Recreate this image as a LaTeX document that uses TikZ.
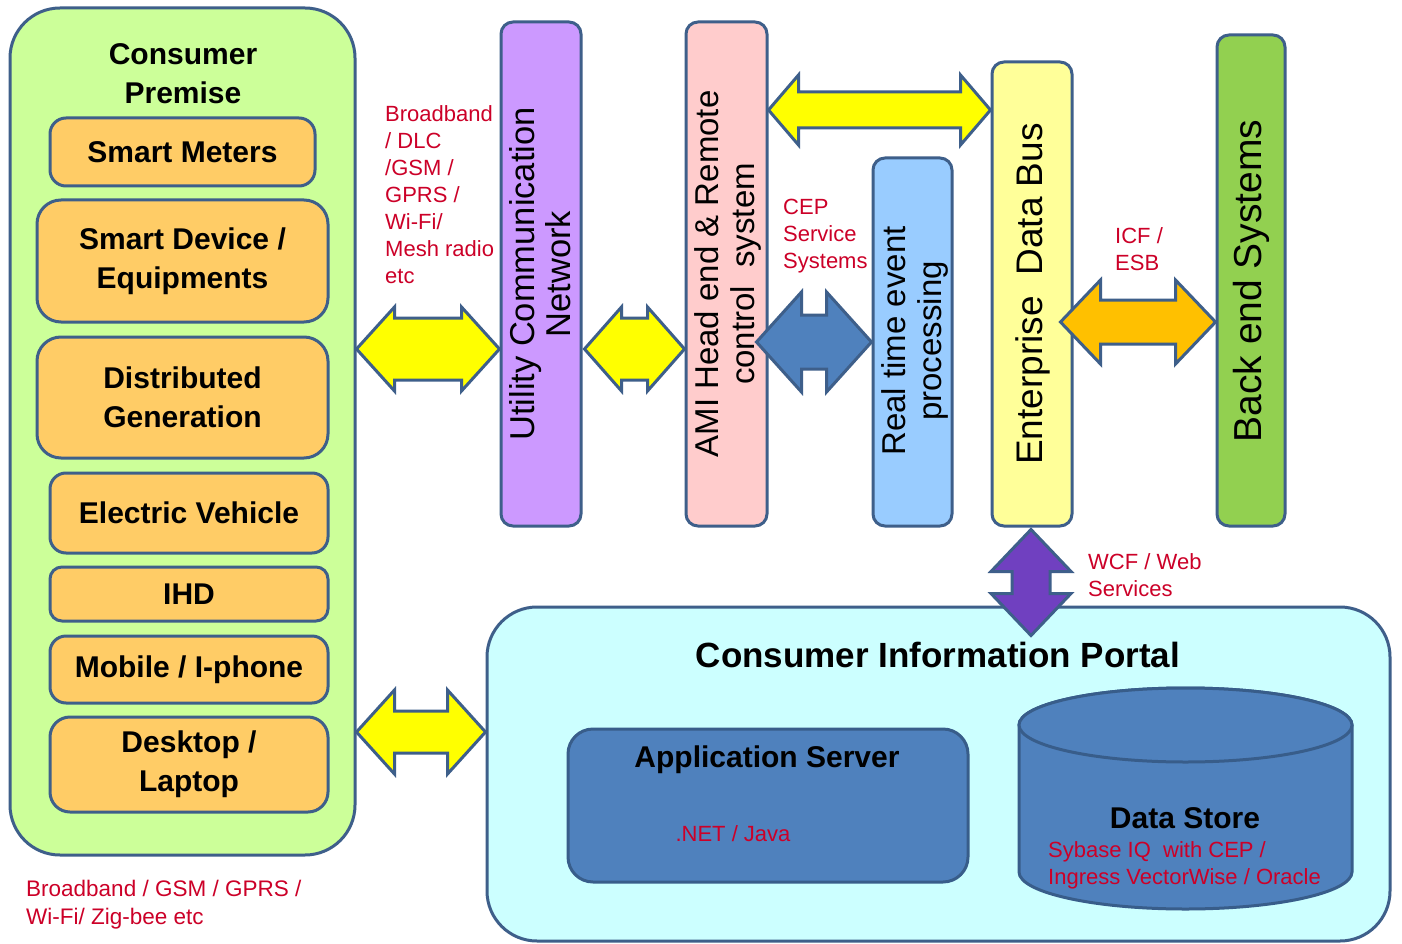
\documentclass[tikz,border=0pt]{standalone}
\usepackage{fontspec}
\setmainfont{Liberation Sans}
\usetikzlibrary{calc}
\definecolor{bd}{RGB}{62,95,138}
\definecolor{cpgreen}{RGB}{204,255,153}
\definecolor{orangebox}{RGB}{255,204,102}
\definecolor{ucnpurple}{RGB}{204,153,255}
\definecolor{amipink}{RGB}{255,204,204}
\definecolor{rtblue}{RGB}{153,204,255}
\definecolor{edbyellow}{RGB}{255,255,153}
\definecolor{begreen}{RGB}{146,208,80}
\definecolor{portalcyan}{RGB}{204,255,255}
\definecolor{steel}{RGB}{79,129,189}
\definecolor{steeldark}{RGB}{56,93,138}
\definecolor{yel}{RGB}{255,255,0}
\definecolor{amber}{RGB}{255,192,0}
\definecolor{violet}{RGB}{112,64,192}
\definecolor{redt}{RGB}{204,0,40}
\tikzset{
  frame/.style={draw=bd, line width=3pt},
  obox/.style={frame, fill=orangebox, rounded corners=16pt, inner sep=0pt,
    font=\fontsize{30}{39}\selectfont\bfseries, align=center},
  vbar/.style={frame, rounded corners=12pt, inner sep=0pt},
  vtxt/.style={rotate=90, align=center, inner sep=0pt, font=\fontsize{33}{36}\selectfont},
  redlbl/.style={text=redt, font=\fontsize{22}{27}\selectfont, align=left, anchor=west, inner sep=0pt},
  barrow/.style={draw=bd, line width=3pt, line join=miter},
  btitle/.style={inner sep=0pt, font=\fontsize{30}{36}\selectfont\bfseries},
}
% horizontal double block arrow: start, end, head length, head half height, shaft half height, fill
\newcommand{\harrow}[6]{%
  \draw[barrow, fill=#6] let \p1=#1, \p2=#2 in
    (\x1,\y1) -- ({\x1+#3pt},{\y1+#4pt}) -- ({\x1+#3pt},{\y1+#5pt}) --
    ({\x2-#3pt},{\y1+#5pt}) -- ({\x2-#3pt},{\y1+#4pt}) -- (\x2,\y1) --
    ({\x2-#3pt},{\y1-#4pt}) -- ({\x2-#3pt},{\y1-#5pt}) --
    ({\x1+#3pt},{\y1-#5pt}) -- ({\x1+#3pt},{\y1-#4pt}) -- cycle;}
% vertical double block arrow: top, bottom, head length, head half width, shaft half width, fill
\newcommand{\varrow}[6]{%
  \draw[barrow, fill=#6] let \p1=#1, \p2=#2 in
    (\x1,\y1) -- ({\x1+#4pt},{\y1-#3pt}) -- ({\x1+#5pt},{\y1-#3pt}) --
    ({\x1+#5pt},{\y2+#3pt}) -- ({\x1+#4pt},{\y2+#3pt}) -- (\x1,\y2) --
    ({\x1-#4pt},{\y2+#3pt}) -- ({\x1-#5pt},{\y2+#3pt}) --
    ({\x1-#5pt},{\y1-#3pt}) -- ({\x1-#4pt},{\y1-#3pt}) -- cycle;}
\begin{document}
\begin{tikzpicture}[x=1pt,y=-1pt]
\useasboundingbox (0,0) rectangle (1402,944);
\fill[white] (0,0) rectangle (1402,944);

% Consumer premise panel
\node[frame, fill=cpgreen, rounded corners=50pt, minimum width=345pt, minimum height=847pt] (cp) at (182.5,431.5) {};
\node[btitle, align=center, font=\fontsize{30}{39}\selectfont\bfseries] (cptitle) at (183,73.5) {Consumer\\Premise};
\node[obox, minimum width=265pt, minimum height=68pt] (sm) at (182.5,152) {Smart Meters};
\node[obox, rounded corners=24pt, minimum width=291pt, minimum height=122pt] (sd) at (182.5,261) {Smart Device /\\Equipments};
\node[obox, rounded corners=24pt, minimum width=291pt, minimum height=121pt] (dg) at (182.5,397.5) {Distributed\\Generation};
\node[obox, minimum width=278pt, minimum height=80pt] (ev) at (189,513) {Electric Vehicle};
\node[obox, rounded corners=12pt, minimum width=278pt, minimum height=54pt] (ihd) at (189,594) {IHD};
\node[obox, minimum width=278pt, minimum height=67pt] (mob) at (189,669.5) {Mobile / I-phone};
\node[obox, rounded corners=20pt, minimum width=278pt, minimum height=95pt] (dt) at (189,764.5) {Desktop /\\Laptop};

% vertical bars
\node[vbar, fill=ucnpurple, minimum width=80pt, minimum height=504pt] (ucn) at (541,274) {};
\node[vbar, fill=amipink, minimum width=81pt, minimum height=504pt] (ami) at (726.5,274) {};
\node[vbar, fill=rtblue, minimum width=79pt, minimum height=368pt] (rt) at (912.5,342) {};
\node[vbar, fill=edbyellow, minimum width=80pt, minimum height=464pt] (edb) at (1032,294) {};
\node[vbar, fill=begreen, minimum width=68pt, minimum height=491pt] (be) at (1251,280.5) {};

\node[vtxt, font=\fontsize{34.5}{36}\selectfont] (ucnt) at (540.5,274) {Utility Communication\\Network};
\node[vtxt] (amit) at (727.5,274) {AMI Head end \& Remote\\control\ \ system};
\node[vtxt] (rtt) at (914.5,341) {Real time event\\processing};
\node[vtxt, font=\fontsize{37}{40}\selectfont] (edbt) at (1033,294) {Enterprise\ \ Data Bus};
\node[vtxt, font=\fontsize{39}{40}\selectfont] (bet) at (1251,281) {Back end Systems};

% portal
\node[frame, fill=portalcyan, rounded corners=50pt, minimum width=903pt, minimum height=334pt] (portal) at (938.5,774) {};
\node[btitle, font=\fontsize{35}{40}\selectfont\bfseries] (ptitle) at (938,655) {Consumer Information Portal};
\node[draw=steeldark, line width=3pt, fill=steel, rounded corners=25pt, minimum width=400pt, minimum height=153pt] (as) at (768,805.5) {};
\node[btitle] (astitle) at (767,760) {Application Server};
\node[redlbl, anchor=center] (asl) at (733,834) {.NET / Java};

% data store cylinder
\draw[draw=steeldark, line width=3pt, fill=steel] (1019,725) -- (1019,872)
  arc[start angle=180, end angle=360, x radius=166.5pt, y radius=37pt] -- (1352,725)
  arc[start angle=0, end angle=180, x radius=166.5pt, y radius=37pt] -- cycle;
\draw[draw=steeldark, line width=3pt, fill=steel] (1185.5,725) ellipse[x radius=166.5pt, y radius=37pt];
\node[btitle] (dst) at (1185,818) {Data Store};
\node[redlbl] (dsl) at (1048,865) {Sybase IQ\ \ with CEP /\\Ingress VectorWise / Oracle};

% red labels
\node[redlbl] (l1) at (385,194.5) {Broadband\\/ DLC\\/GSM /\\GPRS /\\Wi-Fi/\\Mesh radio\\etc};
\node[redlbl] (l2) at (783,236) {CEP\\Service\\Systems};
\node[redlbl] (l3) at (1115,249.5) {ICF /\\ESB};
\node[redlbl] (l4) at (1088,575.5) {WCF / Web\\Services};
\node[redlbl, font=\fontsize{22.5}{28}\selectfont] (l5) at (26,905) {Broadband / GSM / GPRS /\\Wi-Fi/ Zig-bee etc};

% block arrows
\harrow{(cp.east |- 0,349)}{(ucn.west |- 0,349)}{38}{42}{31}{yel}
\harrow{($(ucn.east |- 0,349)+(2,0)$)}{(ami.west |- 0,349)}{37}{42}{31}{yel}
\harrow{(ami.east |- 0,110)}{(edb.west |- 0,110)}{30}{35}{18}{yel}
\harrow{($(ami.east |- 0,342)+(-12,0)$)}{(rt.west |- 0,342)}{45}{50}{27}{steel}
\harrow{($(edb.east |- 0,322)+(-13,0)$)}{(be.west |- 0,322)}{40}{42}{22}{amber}
\harrow{(cp.east |- 0,732)}{(portal.west |- 0,732)}{38}{42}{21}{yel}
\varrow{($(edb.south)+(-1,2)$)}{($(portal.north -| edb.south)+(-1,30)$)}{42}{40}{19}{violet}
\end{tikzpicture}
\end{document}
